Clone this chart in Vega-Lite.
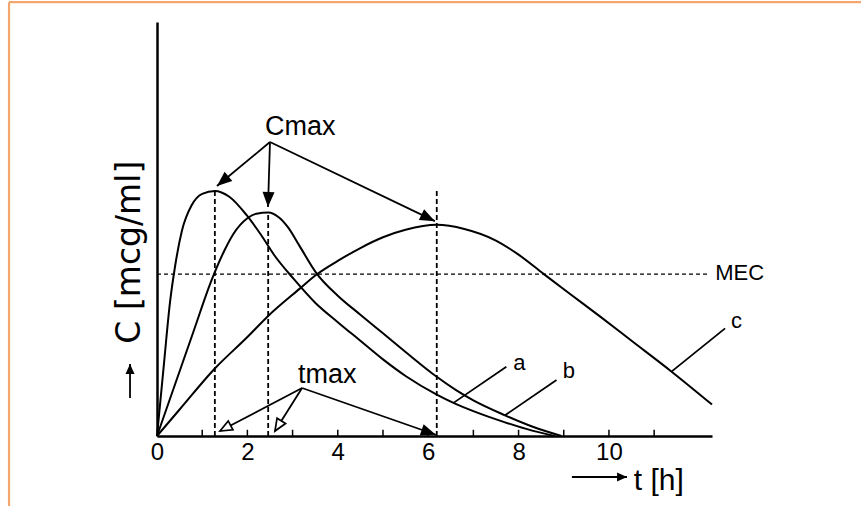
{
  "$schema": "https://vega.github.io/schema/vega-lite/v6.json",
  "width": 555,
  "height": 414,
  "autosize": {"type": "none"},
  "padding": {"left": 157, "top": 22, "right": 149, "bottom": 70},
  "background": "white",
  "config": {
    "view": {"stroke": null},
    "font": "Liberation Sans",
    "axisX": {"domainColor": "black", "domainWidth": 2.5, "ticks": false, "labelFontSize": 24, "labelColor": "black", "labelFont": "Liberation Sans", "grid": false, "labelOverlap": false, "labelFlush": false},
    "axisY": {"domainColor": "black", "domainWidth": 2.5, "ticks": false, "labels": false, "grid": false}
  },
  "datasets": {
    "curves": [
      {"series": "a", "t": 0, "c": 0}, {"series": "a", "t": 0.15, "c": 17}, {"series": "a", "t": 0.29, "c": 32.5}, {"series": "a", "t": 0.4, "c": 41}, {"series": "a", "t": 0.55, "c": 49.5}, {"series": "a", "t": 0.77, "c": 55.8}, {"series": "a", "t": 1.0, "c": 58.5}, {"series": "a", "t": 1.28, "c": 59.2}, {"series": "a", "t": 1.6, "c": 57.8}, {"series": "a", "t": 1.98, "c": 53.4}, {"series": "a", "t": 2.3, "c": 48.6}, {"series": "a", "t": 2.6, "c": 43.6}, {"series": "a", "t": 3.02, "c": 38.0}, {"series": "a", "t": 3.5, "c": 32.2}, {"series": "a", "t": 4.0, "c": 27.5}, {"series": "a", "t": 4.5, "c": 23.0}, {"series": "a", "t": 5.0, "c": 18.5}, {"series": "a", "t": 5.5, "c": 14.5}, {"series": "a", "t": 6.19, "c": 10.0}, {"series": "a", "t": 6.56, "c": 8.0}, {"series": "a", "t": 7.0, "c": 6.0}, {"series": "a", "t": 7.7, "c": 3.3}, {"series": "a", "t": 8.3, "c": 1.3}, {"series": "a", "t": 8.8, "c": 0},
      {"series": "b", "t": 0, "c": 0}, {"series": "b", "t": 0.4, "c": 12.5}, {"series": "b", "t": 0.8, "c": 25}, {"series": "b", "t": 1.21, "c": 37.7}, {"series": "b", "t": 1.5, "c": 45}, {"series": "b", "t": 1.69, "c": 48.8}, {"series": "b", "t": 2.0, "c": 52.6}, {"series": "b", "t": 2.2, "c": 53.7}, {"series": "b", "t": 2.46, "c": 54.0}, {"series": "b", "t": 2.7, "c": 52.8}, {"series": "b", "t": 2.9, "c": 50.4}, {"series": "b", "t": 3.16, "c": 45.8}, {"series": "b", "t": 3.53, "c": 39.3}, {"series": "b", "t": 4.0, "c": 33.9}, {"series": "b", "t": 4.5, "c": 29.3}, {"series": "b", "t": 5.0, "c": 24.8}, {"series": "b", "t": 5.5, "c": 20.3}, {"series": "b", "t": 6.19, "c": 14.3}, {"series": "b", "t": 6.6, "c": 11.2}, {"series": "b", "t": 7.0, "c": 8.6}, {"series": "b", "t": 7.7, "c": 5.0}, {"series": "b", "t": 8.3, "c": 2.3}, {"series": "b", "t": 8.95, "c": 0},
      {"series": "c", "t": 0, "c": 0}, {"series": "c", "t": 0.5, "c": 6.4}, {"series": "c", "t": 1.28, "c": 16.3}, {"series": "c", "t": 2.0, "c": 23.9}, {"series": "c", "t": 2.46, "c": 29.0}, {"series": "c", "t": 3.16, "c": 35.6}, {"series": "c", "t": 3.53, "c": 39.0}, {"series": "c", "t": 4.0, "c": 42.3}, {"series": "c", "t": 4.5, "c": 45.4}, {"series": "c", "t": 5.0, "c": 48.0}, {"series": "c", "t": 5.5, "c": 49.8}, {"series": "c", "t": 6.19, "c": 51.0}, {"series": "c", "t": 6.8, "c": 50.0}, {"series": "c", "t": 7.5, "c": 47.2}, {"series": "c", "t": 8.0, "c": 43.8}, {"series": "c", "t": 8.56, "c": 39.1}, {"series": "c", "t": 9.14, "c": 34.3}, {"series": "c", "t": 9.8, "c": 28.9}, {"series": "c", "t": 10.5, "c": 23.0}, {"series": "c", "t": 11.38, "c": 15.6}, {"series": "c", "t": 12.28, "c": 7.6}
    ],
    "frame": [
      {"x": -3.274, "y": 104.8, "x2": 15.6, "y2": 104.8},
      {"x": -3.274, "y": 104.8, "x2": -3.274, "y2": -17}
    ],
    "mec": [{"x": 0, "y": 39.1, "x2": 12.19, "y2": 39.1}],
    "peaks": [
      {"x": 1.28, "y": 0, "x2": 1.28, "y2": 59.2},
      {"x": 2.46, "y": 0, "x2": 2.46, "y2": 54.0},
      {"x": 6.19, "y": 0, "x2": 6.19, "y2": 59.4}
    ],
    "ticks": [
      {"x": 1, "y": 0, "x2": 1, "y2": 1.5}, {"x": 2, "y": 0, "x2": 2, "y2": 1.5}, {"x": 3, "y": 0, "x2": 3, "y2": 1.5}, {"x": 4, "y": 0, "x2": 4, "y2": 1.5}, {"x": 5, "y": 0, "x2": 5, "y2": 1.5}, {"x": 6, "y": 0, "x2": 6, "y2": 1.5}, {"x": 7, "y": 0, "x2": 7, "y2": 1.5}, {"x": 8, "y": 0, "x2": 8, "y2": 1.5}, {"x": 9, "y": 0, "x2": 9, "y2": 1.5}, {"x": 10, "y": 0, "x2": 10, "y2": 1.5}, {"x": 11, "y": 0, "x2": 11, "y2": 1.5}
    ],
    "arrows": [
      {"kind": "cmax", "x": 2.5, "y": 71.0, "x2": 1.327, "y2": 60.4, "angle": 230},
      {"kind": "cmax", "x": 2.5, "y": 71.0, "x2": 2.456, "y2": 55.3, "angle": 182},
      {"kind": "cmax", "x": 2.5, "y": 71.0, "x2": 6.15, "y2": 51.9, "angle": 116},
      {"kind": "open", "x": 3.21, "y": 11.6, "x2": 1.394, "y2": 1.2, "angle": 242},
      {"kind": "open", "x": 3.21, "y": 11.6, "x2": 2.61, "y2": 1.2, "angle": 212},
      {"kind": "cmax", "x": 3.21, "y": 11.6, "x2": 6.17, "y2": 0.3, "angle": 109},
      {"kind": "title", "x": 9.18, "y": -9.9, "x2": 10.4, "y2": -9.9, "angle": 90},
      {"kind": "title", "x": -0.597, "y": 9.2, "x2": -0.597, "y2": 17.4, "angle": 0}
    ],
    "leaders": [
      {"x": 7.73, "y": 16.7, "x2": 6.56, "y2": 8.0},
      {"x": 8.84, "y": 13.5, "x2": 7.7, "y2": 5.0},
      {"x": 12.57, "y": 26.0, "x2": 11.39, "y2": 15.6}
    ],
    "labels": [
      {"group": "big", "text": "Cmax", "x": 2.39, "y": 72.7},
      {"group": "big", "text": "tmax", "x": 3.12, "y": 12.8},
      {"group": "small", "text": "MEC", "x": 12.35, "y": 37.7},
      {"group": "small", "text": "a", "x": 7.88, "y": 15.9},
      {"group": "small", "text": "b", "x": 8.98, "y": 14.0},
      {"group": "small", "text": "c", "x": 12.7, "y": 26.1},
      {"group": "xtitle", "text": "t [h]", "x": 10.55, "y": -13.0},
      {"group": "ytitle", "text": "C [mcg/ml]", "x": -0.597, "y": 44.4}
    ]
  },
  "layer": [
    {
      "data": {"name": "frame"},
      "mark": {"type": "rule", "color": "#f3a66e", "strokeWidth": 2.2},
      "encoding": {
        "x": {"field": "x", "type": "quantitative", "scale": {"domain": [0, 12.28], "nice": false, "zero": false}, "axis": {"values": [0, 2, 4, 6, 8, 10], "labelPadding": 4, "labelFontSize": 24, "labelColor": "black", "title": null}},
        "y": {"field": "y", "type": "quantitative", "scale": {"domain": [0, 100], "nice": false, "zero": false}, "axis": {"title": null}},
        "x2": {"field": "x2"},
        "y2": {"field": "y2"}
      }
    },
    {
      "data": {"name": "mec"},
      "mark": {"type": "rule", "color": "black", "strokeWidth": 1.3, "strokeDash": [4, 3]},
      "encoding": {
        "x": {"field": "x", "type": "quantitative", "scale": {"domain": [0, 12.28], "nice": false, "zero": false}, "axis": {"values": [0, 2, 4, 6, 8, 10], "labelPadding": 4, "labelFontSize": 24, "labelColor": "black", "title": null}},
        "y": {"field": "y", "type": "quantitative", "scale": {"domain": [0, 100], "nice": false, "zero": false}, "axis": {"title": null}},
        "x2": {"field": "x2"},
        "y2": {"field": "y2"}
      }
    },
    {
      "data": {"name": "peaks"},
      "mark": {"type": "rule", "color": "black", "strokeWidth": 1.8, "strokeDash": [5, 3]},
      "encoding": {
        "x": {"field": "x", "type": "quantitative", "scale": {"domain": [0, 12.28], "nice": false, "zero": false}, "axis": {"values": [0, 2, 4, 6, 8, 10], "labelPadding": 4, "labelFontSize": 24, "labelColor": "black", "title": null}},
        "y": {"field": "y", "type": "quantitative", "scale": {"domain": [0, 100], "nice": false, "zero": false}, "axis": {"title": null}},
        "x2": {"field": "x2"},
        "y2": {"field": "y2"}
      }
    },
    {
      "data": {"name": "ticks"},
      "mark": {"type": "rule", "color": "black", "strokeWidth": 1.5},
      "encoding": {
        "x": {"field": "x", "type": "quantitative", "scale": {"domain": [0, 12.28], "nice": false, "zero": false}, "axis": {"values": [0, 2, 4, 6, 8, 10], "labelPadding": 4, "labelFontSize": 24, "labelColor": "black", "title": null}},
        "y": {"field": "y", "type": "quantitative", "scale": {"domain": [0, 100], "nice": false, "zero": false}, "axis": {"title": null}},
        "x2": {"field": "x2"},
        "y2": {"field": "y2"}
      }
    },
    {
      "data": {"name": "curves"},
      "mark": {"type": "line", "color": "black", "strokeWidth": 2, "interpolate": "monotone"},
      "encoding": {
        "x": {"field": "t", "type": "quantitative", "scale": {"domain": [0, 12.28], "nice": false, "zero": false}, "axis": {"values": [0, 2, 4, 6, 8, 10], "labelPadding": 4, "labelFontSize": 24, "labelColor": "black", "title": null}},
        "y": {"field": "c", "type": "quantitative", "scale": {"domain": [0, 100], "nice": false, "zero": false}, "axis": {"title": null}},
        "detail": {"field": "series"}
      }
    },
    {
      "data": {"name": "arrows"},
      "mark": {"type": "rule", "color": "black", "strokeWidth": 1.8},
      "encoding": {
        "x": {"field": "x", "type": "quantitative", "scale": {"domain": [0, 12.28], "nice": false, "zero": false}, "axis": {"values": [0, 2, 4, 6, 8, 10], "labelPadding": 4, "labelFontSize": 24, "labelColor": "black", "title": null}},
        "y": {"field": "y", "type": "quantitative", "scale": {"domain": [0, 100], "nice": false, "zero": false}, "axis": {"title": null}},
        "x2": {"field": "x2"},
        "y2": {"field": "y2"}
      }
    },
    {
      "data": {"name": "arrows"},
      "transform": [{"filter": "datum.kind == 'cmax'"}],
      "mark": {"type": "point", "shape": "M0,0L0.4,1L-0.4,1Z", "filled": true, "color": "black", "size": 900, "opacity": 1},
      "encoding": {
        "x": {"field": "x2", "type": "quantitative", "scale": {"domain": [0, 12.28], "nice": false, "zero": false}, "axis": {"values": [0, 2, 4, 6, 8, 10], "labelPadding": 4, "labelFontSize": 24, "labelColor": "black", "title": null}},
        "y": {"field": "y2", "type": "quantitative", "scale": {"domain": [0, 100], "nice": false, "zero": false}, "axis": {"title": null}},
        "angle": {"field": "angle", "type": "quantitative", "scale": null}
      }
    },
    {
      "data": {"name": "arrows"},
      "transform": [{"filter": "datum.kind == 'open'"}],
      "mark": {"type": "point", "shape": "M0,0L0.42,1L-0.42,1Z", "filled": false, "fill": "white", "fillOpacity": 1, "stroke": "black", "strokeWidth": 1.7, "size": 576, "opacity": 1},
      "encoding": {
        "x": {"field": "x2", "type": "quantitative", "scale": {"domain": [0, 12.28], "nice": false, "zero": false}, "axis": {"values": [0, 2, 4, 6, 8, 10], "labelPadding": 4, "labelFontSize": 24, "labelColor": "black", "title": null}},
        "y": {"field": "y2", "type": "quantitative", "scale": {"domain": [0, 100], "nice": false, "zero": false}, "axis": {"title": null}},
        "angle": {"field": "angle", "type": "quantitative", "scale": null}
      }
    },
    {
      "data": {"name": "arrows"},
      "transform": [{"filter": "datum.kind == 'title'"}],
      "mark": {"type": "point", "shape": "M0,0L0.45,1L-0.45,1Z", "filled": true, "color": "black", "size": 400, "opacity": 1},
      "encoding": {
        "x": {"field": "x2", "type": "quantitative", "scale": {"domain": [0, 12.28], "nice": false, "zero": false}, "axis": {"values": [0, 2, 4, 6, 8, 10], "labelPadding": 4, "labelFontSize": 24, "labelColor": "black", "title": null}},
        "y": {"field": "y2", "type": "quantitative", "scale": {"domain": [0, 100], "nice": false, "zero": false}, "axis": {"title": null}},
        "angle": {"field": "angle", "type": "quantitative", "scale": null}
      }
    },
    {
      "data": {"name": "leaders"},
      "mark": {"type": "rule", "color": "black", "strokeWidth": 1.8},
      "encoding": {
        "x": {"field": "x", "type": "quantitative", "scale": {"domain": [0, 12.28], "nice": false, "zero": false}, "axis": {"values": [0, 2, 4, 6, 8, 10], "labelPadding": 4, "labelFontSize": 24, "labelColor": "black", "title": null}},
        "y": {"field": "y", "type": "quantitative", "scale": {"domain": [0, 100], "nice": false, "zero": false}, "axis": {"title": null}},
        "x2": {"field": "x2"},
        "y2": {"field": "y2"}
      }
    },
    {
      "data": {"name": "labels"},
      "transform": [{"filter": "datum.group == 'big'"}],
      "mark": {"type": "text", "align": "left", "baseline": "alphabetic", "font": "Liberation Sans", "fontSize": 27, "color": "black"},
      "encoding": {
        "x": {"field": "x", "type": "quantitative", "scale": {"domain": [0, 12.28], "nice": false, "zero": false}, "axis": {"values": [0, 2, 4, 6, 8, 10], "labelPadding": 4, "labelFontSize": 24, "labelColor": "black", "title": null}},
        "y": {"field": "y", "type": "quantitative", "scale": {"domain": [0, 100], "nice": false, "zero": false}, "axis": {"title": null}},
        "text": {"field": "text"}
      }
    },
    {
      "data": {"name": "labels"},
      "transform": [{"filter": "datum.group == 'small'"}],
      "mark": {"type": "text", "align": "left", "baseline": "alphabetic", "font": "Liberation Sans", "fontSize": 22, "color": "black"},
      "encoding": {
        "x": {"field": "x", "type": "quantitative", "scale": {"domain": [0, 12.28], "nice": false, "zero": false}, "axis": {"values": [0, 2, 4, 6, 8, 10], "labelPadding": 4, "labelFontSize": 24, "labelColor": "black", "title": null}},
        "y": {"field": "y", "type": "quantitative", "scale": {"domain": [0, 100], "nice": false, "zero": false}, "axis": {"title": null}},
        "text": {"field": "text"}
      }
    },
    {
      "data": {"name": "labels"},
      "transform": [{"filter": "datum.group == 'xtitle'"}],
      "mark": {"type": "text", "align": "left", "baseline": "alphabetic", "font": "Liberation Sans", "fontSize": 30, "color": "black"},
      "encoding": {
        "x": {"field": "x", "type": "quantitative", "scale": {"domain": [0, 12.28], "nice": false, "zero": false}, "axis": {"values": [0, 2, 4, 6, 8, 10], "labelPadding": 4, "labelFontSize": 24, "labelColor": "black", "title": null}},
        "y": {"field": "y", "type": "quantitative", "scale": {"domain": [0, 100], "nice": false, "zero": false}, "axis": {"title": null}},
        "text": {"field": "text"}
      }
    },
    {
      "data": {"name": "labels"},
      "transform": [{"filter": "datum.group == 'ytitle'"}],
      "mark": {"type": "text", "align": "center", "baseline": "middle", "angle": 270, "font": "DejaVu Sans", "fontSize": 33, "color": "black"},
      "encoding": {
        "x": {"field": "x", "type": "quantitative", "scale": {"domain": [0, 12.28], "nice": false, "zero": false}, "axis": {"values": [0, 2, 4, 6, 8, 10], "labelPadding": 4, "labelFontSize": 24, "labelColor": "black", "title": null}},
        "y": {"field": "y", "type": "quantitative", "scale": {"domain": [0, 100], "nice": false, "zero": false}, "axis": {"title": null}},
        "text": {"field": "text"}
      }
    }
  ]
}
